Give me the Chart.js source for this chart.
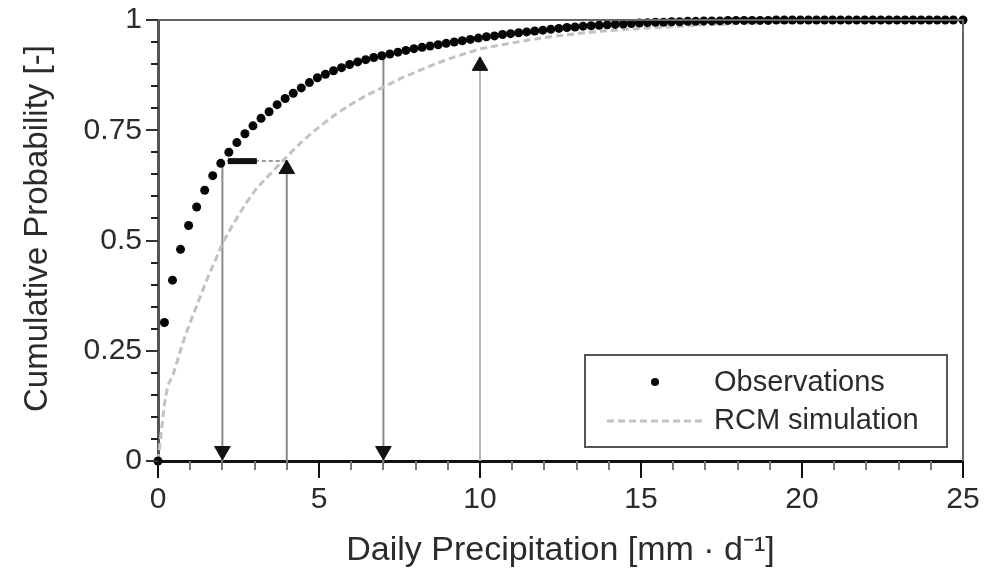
<!DOCTYPE html>
<html>
<head>
<meta charset="utf-8">
<script src="https://cdn.jsdelivr.net/npm/chart.js@4.4.1/dist/chart.umd.min.js"></script>
<style>
    html, body { margin: 0; padding: 0; background: #fff; }
    #wrap { width: 996px; height: 574px; }
</style>
</head>
<body>
<div id="wrap"><canvas id="cdfChart" width="996" height="574"></canvas></div>
<script>
// observed empirical CDF (daily precipitation, mm/d)
const obsX = [0, 0.2, 0.45, 0.7, 0.95, 1.2, 1.45, 1.7, 1.95, 2.2, 2.45, 2.7, 2.95, 3.2, 3.45, 3.7, 3.95,
    4.2, 4.45, 4.7, 4.95, 5.2, 5.45, 5.7, 5.95, 6.2, 6.45, 6.7, 6.95, 7.2, 7.45, 7.7, 7.95,
    8.2, 8.45, 8.7, 8.95, 9.2, 9.45, 9.7, 9.95, 10.2, 10.45, 10.7, 10.95, 11.2, 11.45, 11.7, 11.95,
    12.2, 12.45, 12.7, 12.95, 13.2, 13.45, 13.7, 13.95, 14.2, 14.45, 14.7, 14.95, 15.2, 15.45, 15.7, 15.95,
    16.2, 16.45, 16.7, 16.95, 17.2, 17.45, 17.7, 17.95, 18.2, 18.45, 18.7, 18.95, 19.2, 19.45, 19.7, 19.95,
    20.2, 20.45, 20.7, 20.95, 21.2, 21.45, 21.7, 21.95, 22.2, 22.45, 22.7, 22.95, 23.2, 23.45, 23.7, 23.95,
    24.2, 24.45, 24.7, 25];
const obsP = [0, 0.314, 0.41, 0.48, 0.534, 0.576, 0.614, 0.647, 0.675, 0.700, 0.722, 0.742, 0.760, 0.777, 0.792, 0.808, 0.822,
    0.834, 0.846, 0.858, 0.869, 0.877, 0.885, 0.892, 0.899, 0.905, 0.910, 0.915, 0.919, 0.923, 0.927, 0.931, 0.935,
    0.938, 0.941, 0.944, 0.947, 0.950, 0.953, 0.956, 0.959, 0.962, 0.964, 0.967, 0.969, 0.971, 0.973, 0.975, 0.977,
    0.979, 0.981, 0.983, 0.984, 0.986, 0.987, 0.988, 0.989, 0.990, 0.991, 0.992, 0.993, 0.994, 0.995, 0.995, 0.996,
    0.996, 0.997, 0.997, 0.998, 0.998, 0.998, 0.999, 0.999, 0.999, 0.999, 0.999, 0.999, 1, 1, 1, 1,
    1, 1, 1, 1, 1, 1, 1, 1, 1, 1, 1, 1, 1, 1, 1, 1,
    1, 1, 1, 1];

// RCM simulated CDF
const rcmX = [0, 0.25, 0.5, 0.75, 1, 1.25, 1.5, 1.75, 2, 2.5, 3, 3.5, 4, 4.5, 5, 5.5, 6, 6.5, 7, 7.5, 8, 8.5,
    9, 9.5, 10, 11, 12, 13, 14, 15, 16, 17, 18, 19, 20, 22, 25];
const rcmP = [0, 0.15, 0.203, 0.263, 0.314, 0.361, 0.408, 0.45, 0.492, 0.557, 0.612, 0.652, 0.69, 0.726, 0.757,
    0.785, 0.809, 0.83, 0.848, 0.866, 0.882, 0.897, 0.911, 0.923, 0.934, 0.948, 0.96, 0.969, 0.976, 0.981,
    0.985, 0.989, 0.992, 0.994, 0.996, 0.998, 1.0];

// quantile mapping arrows: [x, pFrom, pTo]
const arrowDown = [[2, 0.68, 0], [7, 0.918, 0]];
const arrowUp = [[4, 0, 0.662], [10, 0, 0.896]];
const mapLevel = 0.68;   // horizontal link obs(2) -> rcm(4)
const mapFromX = 4, mapToX = 2;
const headX = [2.17, 3.07];

const xTicks = [0, 5, 10, 15, 20, 25];
const yTicks = [0, 0.25, 0.5, 0.75, 1];

const FONT = '"Liberation Sans", Arial, sans-serif';
const TEXT = '#2b2b2b';

function pts(xs, ys) {
    return xs.map((x, i) => ({ x: x, y: ys[i] }));
}

const datasets = [];

// vertical guide lines
arrowDown.concat(arrowUp).forEach(([x, p0, p1]) => {
    datasets.push({
        label: '',
        data: [{ x: x, y: p0 }, { x: x, y: p1 }],
        showLine: true,
        borderColor: x === 10 ? '#b8b8b8' : '#8a8a8a',
        borderWidth: 2,
        pointRadius: 0,
        order: 5
    });
});
// horizontal link
datasets.push({
    label: '',
    data: [{ x: mapFromX, y: mapLevel }, { x: mapToX, y: mapLevel }],
    showLine: true,
    borderColor: '#9a9a9a',
    borderWidth: 2,
    borderDash: [4, 3],
    pointRadius: 0,
    order: 5
});
datasets.push({
    label: '',
    data: [{ x: headX[0], y: mapLevel }, { x: headX[1], y: mapLevel }],
    showLine: true,
    borderColor: '#111',
    borderWidth: 6,
    pointRadius: 0,
    order: 1
});
// arrow heads
datasets.push({
    label: '',
    data: arrowDown.map(a => ({ x: a[0], y: 0.0227 })),
    pointStyle: 'triangle',
    rotation: 180,
    pointRadius: 9,
    backgroundColor: '#111',
    borderColor: '#111',
    borderWidth: 1,
    clip: false,
    order: 1
});
datasets.push({
    label: '',
    data: arrowUp.map(a => ({ x: a[0], y: a[2] })),
    pointStyle: 'triangle',
    rotation: 0,
    pointRadius: 9,
    backgroundColor: '#111',
    borderColor: '#111',
    borderWidth: 1,
    order: 1
});
// RCM curve
datasets.push({
    label: 'RCM simulation',
    data: pts(rcmX, rcmP),
    showLine: true,
    borderColor: '#c2c2c2',
    borderWidth: 3,
    borderDash: [7, 4],
    cubicInterpolationMode: 'monotone',
    pointRadius: 0,
    clip: false,
    order: 3
});
// observations
datasets.push({
    label: 'Observations',
    data: pts(obsX, obsP),
    pointRadius: 4.5,
    pointStyle: 'circle',
    backgroundColor: '#050505',
    borderColor: '#050505',
    borderWidth: 0,
    clip: false,
    order: 2
});

// minor/major ticks, frame, y title and in-plot legend
const framePlugin = {
    id: 'frame',
    afterDraw(chart) {
        const ctx = chart.ctx;
        const a = chart.chartArea;
        const xs = chart.scales.x, ys = chart.scales.y;
        ctx.save();
        // top and right frame
        ctx.strokeStyle = '#666';
        ctx.lineWidth = 2;
        ctx.beginPath();
        ctx.moveTo(a.left, a.top);
        ctx.lineTo(a.right, a.top);
        ctx.lineTo(a.right, a.bottom);
        ctx.stroke();

        // x ticks, every 1 mm
        for (let v = 0; v <= 25; v++) {
            const px = Math.round(xs.getPixelForValue(v));
            const major = v % 5 === 0;
            ctx.strokeStyle = major ? '#111' : '#777';
            ctx.lineWidth = 2;
            ctx.beginPath();
            ctx.moveTo(px, a.bottom);
            ctx.lineTo(px, a.bottom + (major ? 17 : 9));
            ctx.stroke();
        }
        // y ticks, every 0.05
        for (let k = 0; k <= 20; k++) {
            const py = Math.round(ys.getPixelForValue(k * 0.05));
            const major = k % 5 === 0;
            ctx.strokeStyle = major ? '#333' : '#222';
            ctx.lineWidth = 2;
            ctx.beginPath();
            ctx.moveTo(a.left, py);
            ctx.lineTo(a.left - (major ? 12 : 7), py);
            ctx.stroke();
        }

        // y axis title (sits a little above the axis centre in the original)
        ctx.save();
        ctx.translate(38, ys.getPixelForValue(0.527));
        ctx.rotate(-Math.PI / 2);
        ctx.font = '33px ' + FONT;
        ctx.fillStyle = TEXT;
        ctx.textAlign = 'center';
        ctx.textBaseline = 'middle';
        ctx.fillText('Cumulative Probability [-]', 0, 0);
        ctx.restore();

        // legend box
        const bx = a.right - 378, by = a.bottom - 106, bw = 362, bh = 92;
        ctx.fillStyle = '#fff';
        ctx.fillRect(bx, by, bw, bh);
        ctx.strokeStyle = '#555';
        ctx.lineWidth = 2;
        ctx.strokeRect(bx, by, bw, bh);

        ctx.font = '29px ' + FONT;
        ctx.fillStyle = TEXT;
        ctx.textBaseline = 'middle';
        ctx.textAlign = 'left';
        // observations entry
        ctx.beginPath();
        ctx.arc(bx + 70, by + 27, 4, 0, Math.PI * 2);
        ctx.fillStyle = '#050505';
        ctx.fill();
        ctx.fillStyle = TEXT;
        ctx.fillText('Observations', bx + 129, by + 28);
        // rcm entry
        ctx.strokeStyle = '#c2c2c2';
        ctx.lineWidth = 3;
        ctx.setLineDash([7, 4]);
        ctx.beginPath();
        ctx.moveTo(bx + 22, by + 66);
        ctx.lineTo(bx + 118, by + 66);
        ctx.stroke();
        ctx.setLineDash([]);
        ctx.fillText('RCM simulation', bx + 129, by + 66);
        ctx.restore();
    }
};

new Chart(document.getElementById('cdfChart'), {
    type: 'scatter',
    data: { datasets },
    options: {
        responsive: false,
        animation: false,
        devicePixelRatio: 1,
        layout: { padding: { top: 20, right: 33, left: 0, bottom: 0 } },
        plugins: {
            legend: { display: false },
            tooltip: { enabled: false }
        },
        scales: {
            x: {
                type: 'linear',
                min: 0,
                max: 25,
                afterFit: (scale) => {
                    scale.height = 113;
                    scale.paddingLeft = 0;
                    scale.paddingRight = 0;
                },
                afterBuildTicks: (scale) => { scale.ticks = xTicks.map(v => ({ value: v })); },
                grid: { display: false },
                border: { display: true, color: '#111', width: 3 },
                ticks: {
                    padding: 13,
                    color: TEXT,
                    font: { family: FONT, size: 30 },
                    callback: (v) => String(v)
                },
                title: {
                    display: true,
                    text: 'Daily Precipitation [mm · d⁻¹]',
                    color: TEXT,
                    font: { family: FONT, size: 34 },
                    padding: { top: 0, bottom: 3 }
                }
            },
            y: {
                type: 'linear',
                min: 0,
                max: 1,
                afterFit: (scale) => {
                    scale.width = 158;
                    scale.paddingTop = 0;
                    scale.paddingBottom = 0;
                },
                afterBuildTicks: (scale) => { scale.ticks = yTicks.map(v => ({ value: v })); },
                grid: { display: false },
                border: { display: true, color: '#555', width: 3 },
                ticks: {
                    padding: 8,
                    color: TEXT,
                    font: { family: FONT, size: 30 },
                    callback: (v) => String(v)
                },
                title: { display: false }
            }
        }
    },
    plugins: [framePlugin]
});
</script>
</body>
</html>
